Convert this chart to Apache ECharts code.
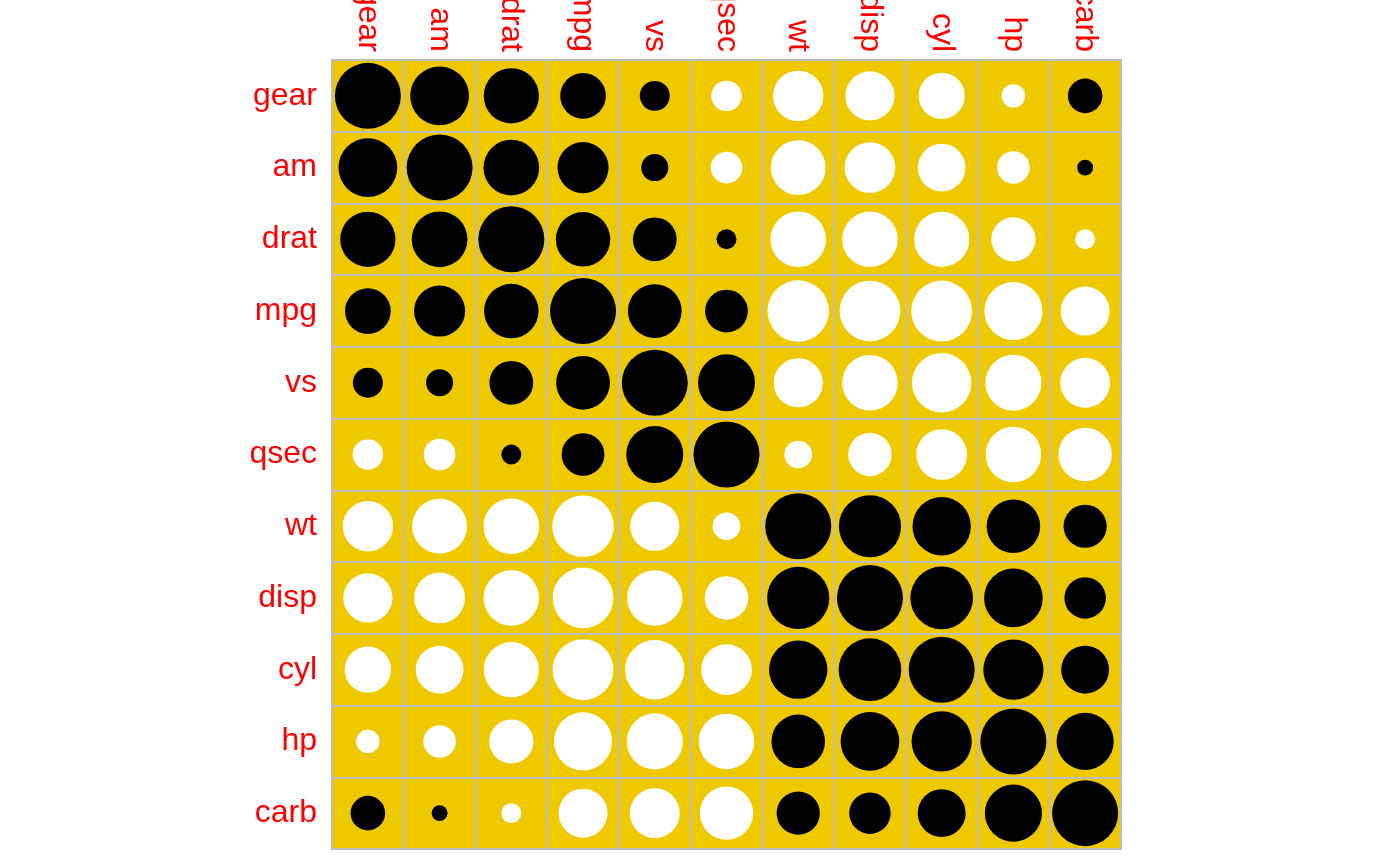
<!DOCTYPE html>
<html><head><meta charset="utf-8">
<script src="https://cdn.jsdelivr.net/npm/echarts@6/dist/echarts.min.js"></script>
<style>html,body{margin:0;padding:0;background:#fff}#c{width:1400px;height:866px}</style>
</head><body><div id="c"></div>
<script>
const vars = ['gear','am','drat','mpg','vs','qsec','wt','disp','cyl','hp','carb'];
const corr = [
  [ 1.000, 0.794, 0.700, 0.480, 0.206,-0.213,-0.583,-0.556,-0.493,-0.126, 0.274],
  [ 0.794, 1.000, 0.713, 0.600, 0.168,-0.230,-0.692,-0.591,-0.523,-0.243, 0.058],
  [ 0.700, 0.713, 1.000, 0.681, 0.440, 0.091,-0.712,-0.710,-0.700,-0.449,-0.091],
  [ 0.480, 0.600, 0.681, 1.000, 0.664, 0.419,-0.868,-0.848,-0.852,-0.776,-0.551],
  [ 0.206, 0.168, 0.440, 0.664, 1.000, 0.745,-0.555,-0.710,-0.811,-0.723,-0.570],
  [-0.213,-0.230, 0.091, 0.419, 0.745, 1.000,-0.175,-0.434,-0.591,-0.708,-0.656],
  [-0.583,-0.692,-0.712,-0.868,-0.555,-0.175, 1.000, 0.888, 0.782, 0.659, 0.428],
  [-0.556,-0.591,-0.710,-0.848,-0.710,-0.434, 0.888, 1.000, 0.902, 0.791, 0.395],
  [-0.493,-0.523,-0.700,-0.852,-0.811,-0.591, 0.782, 0.902, 1.000, 0.832, 0.527],
  [-0.126,-0.243,-0.449,-0.776,-0.723,-0.708, 0.659, 0.791, 0.832, 1.000, 0.750],
  [ 0.274, 0.058,-0.091,-0.551,-0.570,-0.656, 0.428, 0.395, 0.527, 0.750, 1.000]
];

const pos = [], neg = [];
corr.forEach((row, i) => row.forEach((v, j) => {
  (v >= 0 ? pos : neg).push([vars[j], vars[i], v]);
}));
const maxD = 66;
const sizeFn = v => maxD * Math.sqrt(Math.abs(v[2]));
const font = 'Liberation Sans, Arial, sans-serif';

const chart = echarts.init(document.getElementById('c'), null, {renderer: 'canvas'});
chart.setOption({
  animation: false,
  backgroundColor: '#ffffff',
  grid: {left: 332, top: 60, width: 789, height: 789, show: true, containLabel: false,
         outerBoundsMode: 'none',
         backgroundColor: '#EEC900', borderColor: '#BEBEBE', borderWidth: 2},
  xAxis: {type: 'category', data: vars, position: 'top',
    axisLine: {show: false}, axisTick: {show: false},
    axisLabel: {rotate: 90, color: '#FF0000', fontSize: 32, fontFamily: font, margin: 8},
    splitLine: {show: true, lineStyle: {color: '#BEBEBE', width: 2}}},
  yAxis: {type: 'category', data: vars, inverse: true,
    axisLine: {show: false}, axisTick: {show: false},
    axisLabel: {color: '#FF0000', fontSize: 32, fontFamily: font, margin: 15},
    splitLine: {show: true, lineStyle: {color: '#BEBEBE', width: 2}}},
  series: [
    {type: 'scatter', data: pos, symbol: 'circle', symbolSize: sizeFn,
     itemStyle: {color: '#000000', opacity: 1}},
    {type: 'scatter', data: neg, symbol: 'circle', symbolSize: sizeFn,
     itemStyle: {color: '#FFFFFF', opacity: 1}}
  ]
});
</script></body></html>
